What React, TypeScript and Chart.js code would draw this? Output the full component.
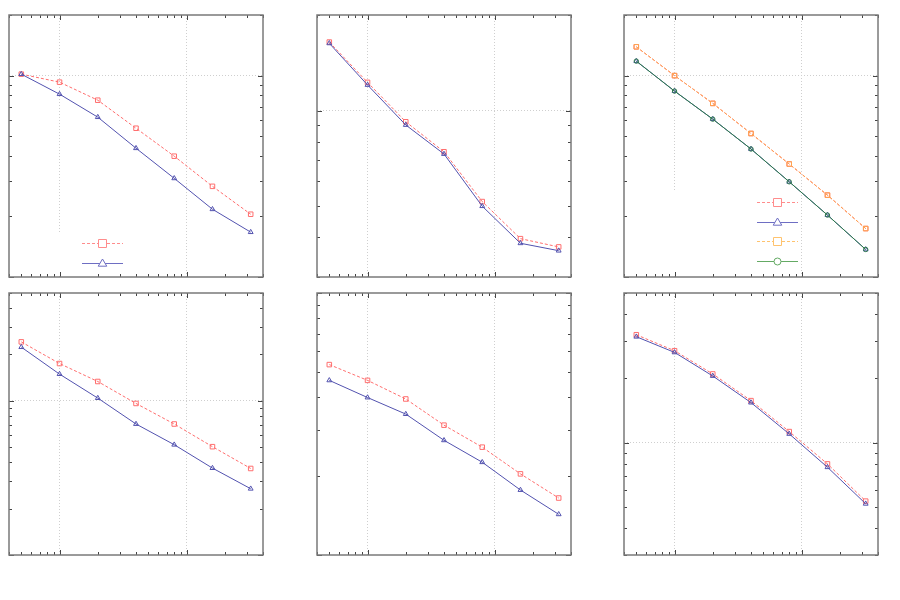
import { useEffect, useRef } from 'react';
import { Chart, registerables } from 'chart.js';

Chart.register(...registerables);

// shared x positions (log axis, no labels)
const xValues = [5, 10, 20, 40, 80, 160, 320];
const xMin = 4;
const xMax = 400;

// y limits per panel (row by row)
const panelYMin = [0.1, 0.3, 0.1, 0.1, 0.1, 0.3];
const panelYMax = [2, 2, 2, 5, 1, 5];

// panel 1
const p1Red = [1.017, 0.928, 0.755, 0.548, 0.398, 0.282, 0.205];
const p1Blue = [1.017, 0.809, 0.622, 0.436, 0.309, 0.217, 0.167];
// panel 2
const p2Red = [1.644, 1.228, 0.923, 0.743, 0.518, 0.396, 0.373];
const p2Blue = [1.629, 1.205, 0.902, 0.731, 0.501, 0.383, 0.363];
// panel 3
const p3Red = [1.39, 1.0, 0.728, 0.516, 0.364, 0.255, 0.174];
const p3Blue = [1.18, 0.838, 0.608, 0.432, 0.297, 0.203, 0.137];
const p3Orange = [1.39, 1.0, 0.728, 0.516, 0.364, 0.255, 0.174];
const p3Green = [1.18, 0.838, 0.608, 0.432, 0.297, 0.203, 0.137];
// panel 4
const p4Red = [2.41, 1.744, 1.334, 0.961, 0.707, 0.504, 0.364];
const p4Blue = [2.228, 1.489, 1.041, 0.707, 0.519, 0.366, 0.269];
// panel 5
const p5Red = [0.533, 0.464, 0.394, 0.313, 0.258, 0.204, 0.165];
const p5Blue = [0.464, 0.399, 0.345, 0.274, 0.226, 0.177, 0.143];
// panel 6
const p6Red = [3.194, 2.69, 2.096, 1.574, 1.129, 0.798, 0.535];
const p6Blue = [3.127, 2.642, 2.051, 1.541, 1.101, 0.77, 0.52];

const STYLES: Record<string, any> = {
  red: { color: 'rgb(255,110,110)', dash: [3, 2], point: 'rect', r: 3.2, lr: 5 },
  blue: { color: 'rgb(82,82,175)', dash: [], point: 'triangle', r: 2.8, lr: 4.5 },
  orange: { color: 'rgb(255,165,80)', dash: [3, 2], point: 'rect', r: 3.2, lr: 5 },
  green: { color: 'rgb(46,125,72)', dash: [], point: 'circle', r: 2.2, lr: 3.5 },
};

// key samples are drawn a bit paler than the plotted lines
const KEY_COLORS: Record<string, string> = {
  red: 'rgb(255,140,140)',
  blue: 'rgb(110,110,195)',
  orange: 'rgb(255,195,110)',
  green: 'rgb(100,170,100)',
};

const PW = 254;
const PH = 262;
const PAD = 10;

function logTicks(min: number, max: number) {
  const out: number[] = [];
  for (let e = Math.floor(Math.log10(min)) - 1; e <= Math.ceil(Math.log10(max)); e++) {
    for (let m = 1; m < 10; m++) {
      const v = m * Math.pow(10, e);
      if (v >= min * 0.999 && v <= max * 1.001) out.push(v);
    }
  }
  return out;
}

const isDecade = (v: number) => Math.abs(Math.log10(v) - Math.round(Math.log10(v))) < 1e-6;

const gnuplotPlugin = {
  id: 'gnu',
  beforeDatasetsDraw(chart: any, _a: any, opts: any) {
    const L = opts.legend;
    if (!L) return;
    const { ctx, chartArea: a } = chart;
    ctx.save();
    ctx.fillStyle = '#fff';
    ctx.fillRect(a.left + L.boxX, a.top + L.boxY, L.boxW, a.bottom - a.top - L.boxY - 1);
    ctx.restore();
  },
  afterDraw(chart: any, _a: any, opts: any) {
    const { ctx, chartArea: a, scales } = chart;
    ctx.save();
    // tick marks, inward on all four sides
    ctx.strokeStyle = '#444';
    ctx.lineWidth = 1;
    ctx.beginPath();
    scales.x.ticks.forEach((t: any) => {
      const px = Math.round(scales.x.getPixelForValue(t.value)) + 0.5;
      const len = isDecade(t.value) ? 5 : 3;
      ctx.moveTo(px, a.bottom); ctx.lineTo(px, a.bottom - len);
      ctx.moveTo(px, a.top); ctx.lineTo(px, a.top + len);
    });
    scales.y.ticks.forEach((t: any) => {
      const py = Math.round(scales.y.getPixelForValue(t.value)) + 0.5;
      const len = isDecade(t.value) ? 5 : 3;
      ctx.moveTo(a.left, py); ctx.lineTo(a.left + len, py);
      ctx.moveTo(a.right, py); ctx.lineTo(a.right - len, py);
    });
    ctx.stroke();
    // frame
    ctx.strokeStyle = '#7a7a7a';
    ctx.lineWidth = 1.5;
    ctx.strokeRect(a.left, a.top, a.right - a.left, a.bottom - a.top);

    // key: line sample with a larger marker, no text
    const L = opts.legend;
    if (L) {
      chart.data.datasets.forEach((ds: any, i: number) => {
        const s = STYLES[ds.key];
        const y = Math.round(a.top + L.y + i * L.dy) + 0.5;
        const x0 = a.left + L.x;
        const x1 = x0 + L.w;
        const xm = (x0 + x1) / 2;
        ctx.strokeStyle = KEY_COLORS[ds.key];
        ctx.lineWidth = 1;
        ctx.setLineDash(s.dash);
        ctx.beginPath();
        ctx.moveTo(x0, y); ctx.lineTo(x1, y);
        ctx.stroke();
        ctx.setLineDash([]);
        ctx.beginPath();
        const r = s.lr;
        if (s.point === 'rect') {
          ctx.rect(xm - r * 0.8, y - r * 0.8, r * 1.6, r * 1.6);
        } else if (s.point === 'triangle') {
          ctx.moveTo(xm, y - r);
          ctx.lineTo(xm + r * 0.95, y + r * 0.6);
          ctx.lineTo(xm - r * 0.95, y + r * 0.6);
          ctx.closePath();
        } else {
          ctx.arc(xm, y, r, 0, Math.PI * 2);
        }
        ctx.fillStyle = '#fff';
        ctx.fill();
        ctx.stroke();
      });
    }
    ctx.restore();
  },
};

type Series = { key: string; values: number[] };

function Panel({ left, top, idx, series, legend }: { left: number; top: number; idx: number; series: Series[]; legend?: any }) {
  const chartRef = useRef<HTMLCanvasElement>(null);

  useEffect(() => {
    if (!chartRef.current) return;
    const yMin = panelYMin[idx];
    const yMax = panelYMax[idx];
    const xt = logTicks(xMin, xMax);
    const yt = logTicks(yMin, yMax);

    const gridColor = (min: number, max: number) => (c: any) => {
      const v = c.tick ? c.tick.value : 0;
      if (!v || !isDecade(v) || Math.abs(v - min) < 1e-9 || Math.abs(v - max) < 1e-9) return 'rgba(0,0,0,0)';
      return '#cfcfcf';
    };

    const chart = new Chart(chartRef.current, {
      type: 'line',
      data: {
        datasets: series.map((s, k) => {
          const st = STYLES[s.key];
          return {
            key: s.key,
            // later series sit on top, as in the original plot
            order: series.length - k,
            data: s.values.map((v, i) => ({ x: xValues[i], y: v })),
            borderColor: st.color,
            borderWidth: 1,
            borderDash: st.dash,
            pointStyle: st.point,
            pointRadius: st.r,
            pointBorderWidth: 1,
            pointBorderColor: st.color,
            pointBackgroundColor: 'rgba(255,255,255,0)',
            fill: false,
            tension: 0,
          } as any;
        }),
      },
      options: {
        animation: false,
        responsive: true,
        maintainAspectRatio: false,
        layout: { padding: PAD },
        plugins: {
          legend: { display: false },
          tooltip: { enabled: false },
          gnu: { legend },
        } as any,
        scales: {
          x: {
            type: 'logarithmic',
            min: xMin,
            max: xMax,
            afterBuildTicks: (axis: any) => {
              axis.ticks = xt.map((v) => ({ value: v }));
            },
            ticks: { display: false },
            grid: { drawTicks: false, color: gridColor(xMin, xMax), lineWidth: 1 },
            border: { display: false, dash: [1, 2] },
          },
          y: {
            type: 'logarithmic',
            min: yMin,
            max: yMax,
            afterBuildTicks: (axis: any) => {
              axis.ticks = yt.map((v) => ({ value: v }));
            },
            ticks: { display: false },
            grid: { drawTicks: false, color: gridColor(yMin, yMax), lineWidth: 1 },
            border: { display: false, dash: [1, 2] },
          },
        },
      },
      plugins: [gnuplotPlugin as any],
    });

    return () => {
      chart.destroy();
    };
  }, []);

  return (
    <div style={{ position: 'absolute', left: left - PAD, top: top - PAD, width: PW + 2 * PAD, height: PH + 2 * PAD }}>
      <canvas ref={chartRef}></canvas>
    </div>
  );
}

export default function App() {
  const colX = [9, 317, 624];
  const rowY = [15, 293];
  return (
    <div style={{ position: 'fixed', left: 0, top: 0, width: 900, height: 600, background: '#fff' }}>
      <Panel idx={0} left={colX[0]} top={rowY[0]}
        series={[{ key: 'red', values: p1Red }, { key: 'blue', values: p1Blue }]}
        legend={{ x: 73, y: 228, dy: 19.5, w: 41, boxX: 20, boxY: 218, boxW: 110 }} />
      <Panel idx={1} left={colX[1]} top={rowY[0]}
        series={[{ key: 'red', values: p2Red }, { key: 'blue', values: p2Blue }]} />
      <Panel idx={2} left={colX[2]} top={rowY[0]}
        series={[
          { key: 'red', values: p3Red },
          { key: 'blue', values: p3Blue },
          { key: 'orange', values: p3Orange },
          { key: 'green', values: p3Green },
        ]}
        legend={{ x: 133, y: 187, dy: 19.7, w: 41, boxX: 40, boxY: 177, boxW: 135 }} />
      <Panel idx={3} left={colX[0]} top={rowY[1]}
        series={[{ key: 'red', values: p4Red }, { key: 'blue', values: p4Blue }]} />
      <Panel idx={4} left={colX[1]} top={rowY[1]}
        series={[{ key: 'red', values: p5Red }, { key: 'blue', values: p5Blue }]} />
      <Panel idx={5} left={colX[2]} top={rowY[1]}
        series={[{ key: 'red', values: p6Red }, { key: 'blue', values: p6Blue }]} />
    </div>
  );
}
